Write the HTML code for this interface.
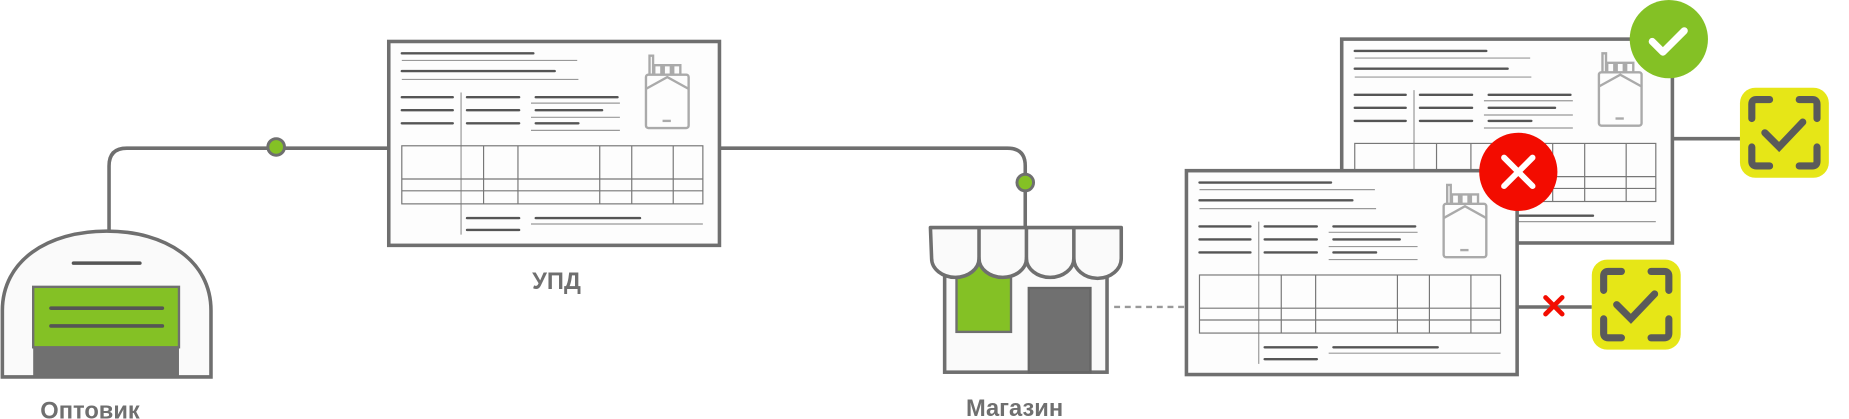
<!DOCTYPE html>
<html><head><meta charset="utf-8"><style>
html,body{margin:0;padding:0;background:#fff;width:1849px;height:419px;overflow:hidden}
svg{display:block}
text{font-family:"Liberation Sans",sans-serif;fill:#6f6f6f;font-weight:bold}
</style></head><body>
<svg width="1849" height="419" viewBox="0 0 1560 353.5" preserveAspectRatio="none" xmlns="http://www.w3.org/2000/svg">
<defs>
<g id="doc">
<rect x="0" y="0" width="279" height="172" fill="#fdfdfd" stroke="#6f6f6f" stroke-width="3"/>
<g stroke="#555" stroke-width="2" stroke-linecap="round">
<line x1="11" y1="10" x2="122" y2="10"/>
<line x1="11" y1="25" x2="140" y2="25"/>
<line x1="11" y1="47" x2="54" y2="47"/><line x1="66" y1="47" x2="110" y2="47"/><line x1="124" y1="47" x2="193" y2="47"/>
<line x1="11" y1="58" x2="54" y2="58"/><line x1="66" y1="58" x2="110" y2="58"/><line x1="124" y1="58" x2="180" y2="58"/>
<line x1="11" y1="69" x2="54" y2="69"/><line x1="66" y1="69" x2="110" y2="69"/><line x1="124" y1="69" x2="160" y2="69"/>
<line x1="66" y1="149" x2="110" y2="149"/><line x1="124" y1="149" x2="212" y2="149"/>
<line x1="66" y1="159" x2="110" y2="159"/>
</g>
<g stroke="#999" stroke-width="1">
<line x1="11" y1="16" x2="159" y2="16"/><line x1="11" y1="32" x2="160" y2="32"/>
<line x1="120" y1="52" x2="195" y2="52"/><line x1="120" y1="64" x2="195" y2="64"/><line x1="120" y1="75" x2="195" y2="75"/>
<line x1="120" y1="154" x2="265" y2="154"/>
<line x1="61" y1="43" x2="61" y2="163"/>
</g>
<g stroke="#777" stroke-width="1" fill="none">
<rect x="11" y="88" width="254" height="49"/>
<line x1="11" y1="116" x2="265" y2="116"/><line x1="11" y1="126" x2="265" y2="126"/>
<line x1="80" y1="88" x2="80" y2="137"/><line x1="109" y1="88" x2="109" y2="137"/><line x1="178" y1="88" x2="178" y2="137"/><line x1="205" y1="88" x2="205" y2="137"/><line x1="240" y1="88" x2="240" y2="137"/>
</g>
<g stroke="#aaa" stroke-width="2" fill="none">
<rect x="217" y="28" width="36" height="45" rx="2"/>
<polyline points="217,40 235,30 253,40"/>
<path d="M220,28 V12 h3 V28 M224,28 v-8 h6 v8 M232,28 v-8 h6 v8 M240,28 v-8 h6 v8"/>
<line x1="231" y1="67" x2="238" y2="67"/>
</g>
</g>
<g id="scan">
<rect x="0" y="0" width="75" height="76" rx="13" fill="#e6e617"/>
<g stroke="#5a5a5a" stroke-width="6" fill="none" stroke-linecap="round">
<path d="M10,26 V14 Q10,10 14,10 H25 M50,10 H61 Q65,10 65,14 V26 M65,50 V62 Q65,66 61,66 H50 M25,66 H14 Q10,66 10,62 V50"/>
<path d="M21,38 L33,50 L53,29"/>
</g>
</g>
</defs>
<!-- connectors -->
<g stroke="#6f6f6f" stroke-width="3" fill="none">
<path d="M92,195 V140 Q92,125 107,125 H328"/>
<path d="M607,125 H850 Q865,125 865,140 V192"/>
<line x1="1410" y1="117" x2="1468" y2="117"/>
<line x1="1281" y1="259" x2="1343" y2="259"/>
</g>
<line x1="940" y1="259" x2="999" y2="259" stroke="#999" stroke-width="2" stroke-dasharray="5,4"/>
<circle cx="233" cy="124" r="7" fill="#84c125" stroke="#6f6f6f" stroke-width="2.5"/>
<circle cx="865" cy="154" r="7" fill="#84c125" stroke="#6f6f6f" stroke-width="2.5"/>
<!-- warehouse -->
<path d="M2,318 V262 C2,220 40,195 90,195 C140,195 178,220 178,262 V318 Z" fill="#fafafa" stroke="#6f6f6f" stroke-width="3"/>
<line x1="62" y1="222" x2="118" y2="222" stroke="#555" stroke-width="3" stroke-linecap="round"/>
<rect x="28" y="242" width="123" height="51" fill="#84c125" stroke="#6f6f6f" stroke-width="2"/>
<rect x="28" y="293" width="123" height="24" fill="#707070"/>
<g stroke="#555" stroke-width="3" stroke-linecap="round"><line x1="43" y1="260" x2="137" y2="260"/><line x1="43" y1="275" x2="137" y2="275"/></g>
<!-- UPD doc -->
<use href="#doc" x="328" y="35"/>
<!-- shop -->
<rect x="797" y="215" width="137" height="99" fill="#fafafa" stroke="#6f6f6f" stroke-width="3"/>
<rect x="807" y="215" width="46" height="65" fill="#84c125" stroke="#6f6f6f" stroke-width="2"/>
<rect x="868" y="243" width="52" height="71" fill="#707070" stroke="#666" stroke-width="2"/>
<path d="M785,192 H946 V218 A19,16 0 0 1 906,218 A20,16 0 0 1 866,218 A20,16 0 0 1 826,218 A20,16 0 0 1 786,218 Z" fill="#fafafa" stroke="#6f6f6f" stroke-width="3" stroke-linejoin="round"/>
<g stroke="#6f6f6f" stroke-width="3"><line x1="826" y1="192" x2="826" y2="218"/><line x1="866" y1="192" x2="866" y2="218"/><line x1="906" y1="192" x2="906" y2="218"/></g>
<!-- right docs -->
<use href="#doc" x="1132" y="33"/>
<use href="#doc" x="1001" y="144"/>
<circle cx="1408" cy="33" r="33" fill="#84c125"/>
<path d="M1394,35 L1403,44 L1421,26" stroke="#fff" stroke-width="6" fill="none" stroke-linecap="round" stroke-linejoin="round"/>
<circle cx="1281" cy="145" r="33" fill="#f30c00"/>
<path d="M1269,133 L1293,157 M1293,133 L1269,157" stroke="#fff" stroke-width="5" stroke-linecap="round"/>
<path d="M1304,251 L1318,265 M1318,251 L1304,265" stroke="#f30c00" stroke-width="4" stroke-linecap="round"/>
<use href="#scan" x="1468" y="74"/>
<use href="#scan" x="1343" y="219"/>
<!-- labels -->
<text x="34" y="353" font-size="20">Оптовик</text>
<text x="449" y="244" font-size="20">УПД</text>
<text x="815" y="351" font-size="20">Магазин</text>
</svg>
</body></html>
